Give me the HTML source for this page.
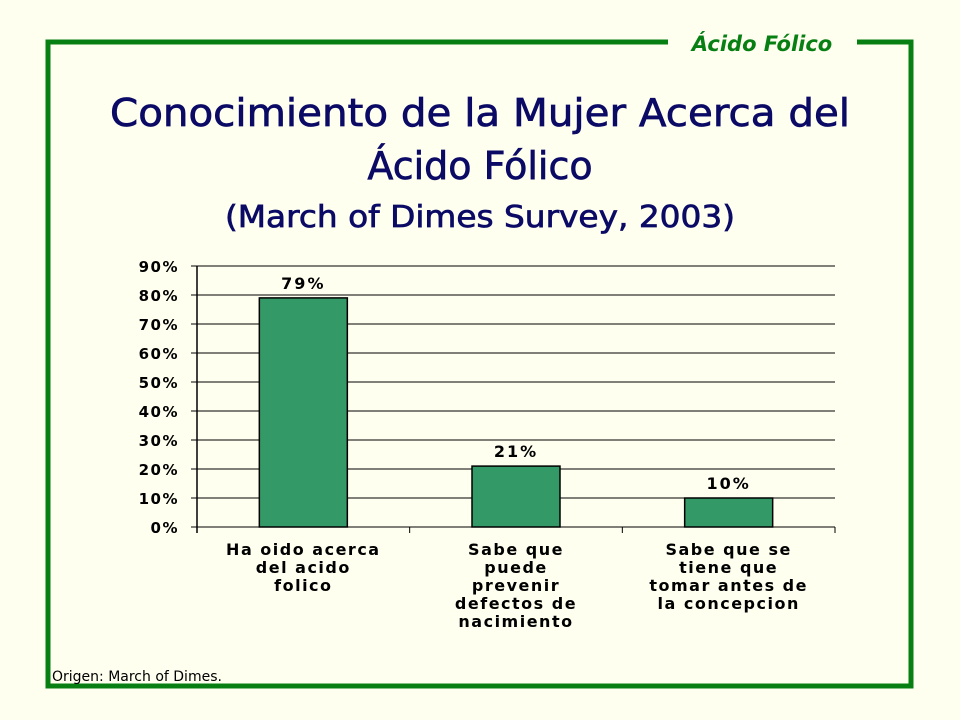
<!DOCTYPE html>
<html><head><meta charset="utf-8"><style>
body{margin:0;background:#FFFFF0;}
svg{display:block}
</style></head><body>
<svg width="960" height="720" xmlns="http://www.w3.org/2000/svg">
<rect width="960" height="720" fill="#FFFFF0"/>
<path d="M668 42 H48 V686 H911 V42 H857" fill="none" stroke="#087F13" stroke-width="5"/>
<text x="762" y="51" text-anchor="middle" font-family="'DejaVu Sans',sans-serif" font-style="italic" font-weight="bold" font-size="21" fill="#087F13">Ácido Fólico</text>
<g font-family="'DejaVu Sans','Liberation Sans',sans-serif" fill="#0B0B66" stroke="#0B0B66" stroke-width="0.7" text-anchor="middle">
<text x="480" y="126" font-size="38" textLength="740" lengthAdjust="spacingAndGlyphs">Conocimiento de la Mujer Acerca del</text>
<text x="480" y="179" font-size="38">Ácido Fólico</text>
<text x="480" y="227" font-size="30" textLength="510" lengthAdjust="spacingAndGlyphs">(March of Dimes Survey, 2003)</text>
</g>
<g id="chart"></g>
<text x="52" y="681" font-family="'DejaVu Sans',sans-serif" font-size="14" fill="#000">Origen: March of Dimes.</text>
</svg>
<script>
const categories=[["Ha oido acerca","del acido","folico"],["Sabe que","puede","prevenir","defectos de","nacimiento"],["Sabe que se","tiene que","tomar antes de","la concepcion"]];
const values=[79,21,10];
const valueLabels=["79%","21%","10%"];
const tickValues=[0,10,20,30,40,50,60,70,80,90];
const tickLabels=["0%","10%","20%","30%","40%","50%","60%","70%","80%","90%"];
const NS="http://www.w3.org/2000/svg";
const g=document.getElementById("chart");
const x0=197,x1=835,y0=527,yMax=90,pxPer=(527-266)/90;
const y=v=>y0-v*pxPer;
const bw=(x1-x0)/categories.length;
function mk(t,a,txt){const e=document.createElementNS(NS,t);for(const k in a)e.setAttribute(k,a[k]);if(txt!=null)e.textContent=txt;g.appendChild(e);return e;}
const F="'DejaVu Sans','Liberation Sans',sans-serif";
tickValues.forEach((v,i)=>{
  const l=mk("line",{x1:x0-6,x2:x1,y1:y(v),y2:y(v),stroke:"#000","stroke-width":1});
  
  
  const t=mk("text",{x:x0-18,y:y(v)+6,"text-anchor":"end","font-family":F,"font-weight":"bold","font-size":15,"letter-spacing":"1.5"},tickLabels[i]);
  
  
});
const ax=mk("line",{x1:x0,x2:x0,y1:y(yMax),y2:y0+6,stroke:"#000","stroke-width":1.5});


for(let i=1;i<=categories.length;i++){
  const tk=mk("line",{x1:x0+i*bw,x2:x0+i*bw,y1:y0,y2:y0+6,stroke:"#000"});
  
  
}
values.forEach((v,i)=>{
  const cx=x0+bw*(i+0.5),w=88;
  const r=mk("rect",{x:cx-w/2,y:y(v),width:w,height:y0-y(v),fill:"#339966",stroke:"#000","stroke-width":1.5});
  
  
  const t=mk("text",{x:cx,y:y(v)-9,"text-anchor":"middle","font-family":F,"font-weight":"bold","font-size":16,"letter-spacing":"2"},valueLabels[i]);
  
  
  categories[i].forEach((ln,j)=>{
    const c=mk("text",{x:cx,y:y0+28+j*18,"text-anchor":"middle","font-family":F,"font-weight":"bold","font-size":16,"letter-spacing":"1.5"},ln);
    
    
  });
});
</script>
</body></html>
